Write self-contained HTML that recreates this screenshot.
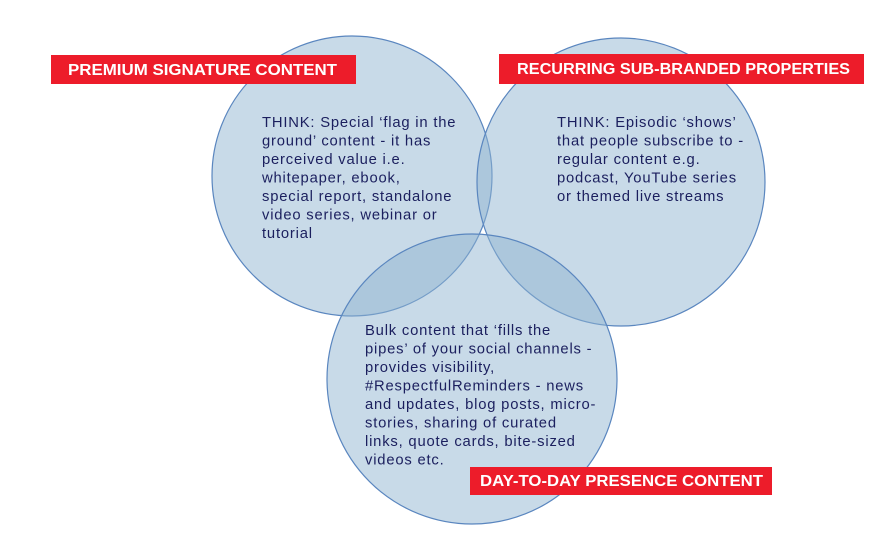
<!DOCTYPE html>
<html><head><meta charset="utf-8"><style>
html,body{margin:0;padding:0;background:#fff;}
svg{display:block;}
.t{font-family:"Liberation Sans",sans-serif;font-size:14.8px;letter-spacing:0.8px;fill:#1b1f5e;}
.l{font-family:"Liberation Sans",sans-serif;font-size:16px;font-weight:bold;fill:#fff;}
</style></head><body>
<svg width="893" height="557" viewBox="0 0 893 557" xmlns="http://www.w3.org/2000/svg">
<g fill="rgba(143,180,208,0.49)" stroke="#5a86bf" stroke-width="1.2">
<circle cx="352" cy="176" r="140"/>
<circle cx="621" cy="182" r="144"/>
<circle cx="472" cy="379" r="145"/>
</g>
<rect x="51" y="55" width="305" height="29" fill="#ed1c2a"/>
<text class="l" x="68" y="75" textLength="269" lengthAdjust="spacingAndGlyphs">PREMIUM SIGNATURE CONTENT</text>
<rect x="499" y="54" width="365" height="30" fill="#ed1c2a"/>
<text class="l" x="517" y="74" textLength="333" lengthAdjust="spacingAndGlyphs">RECURRING SUB-BRANDED PROPERTIES</text>
<rect x="470" y="467" width="302" height="28" fill="#ed1c2a"/>
<text class="l" x="480" y="486" textLength="283" lengthAdjust="spacingAndGlyphs">DAY-TO-DAY PRESENCE CONTENT</text>
<g class="t">
<text x="262" y="127">THINK: Special ‘flag in the</text>
<text x="262" y="145.5">ground’ content - it has</text>
<text x="262" y="164">perceived value i.e.</text>
<text x="262" y="182.5">whitepaper, ebook,</text>
<text x="262" y="201">special report, standalone</text>
<text x="262" y="219.5">video series, webinar or</text>
<text x="262" y="238">tutorial</text>
<text x="557" y="127">THINK: Episodic ‘shows’</text>
<text x="557" y="145.5">that people subscribe to -</text>
<text x="557" y="164">regular content e.g.</text>
<text x="557" y="182.5">podcast, YouTube series</text>
<text x="557" y="201">or themed live streams</text>
<text x="365" y="335">Bulk content that ‘fills the</text>
<text x="365" y="353.5">pipes’ of your social channels -</text>
<text x="365" y="372">provides visibility,</text>
<text x="365" y="390.5">#RespectfulReminders - news</text>
<text x="365" y="409">and updates, blog posts, micro-</text>
<text x="365" y="427.5">stories, sharing of curated</text>
<text x="365" y="446">links, quote cards, bite-sized</text>
<text x="365" y="464.5">videos etc.</text>
</g>
</svg>
</body></html>
